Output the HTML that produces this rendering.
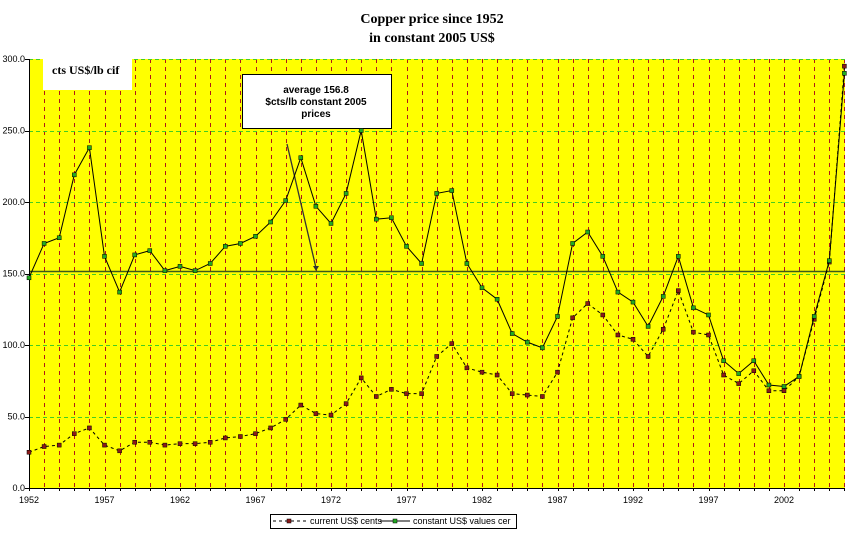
<!DOCTYPE html>
<html><head><style>body{margin:0;background:#fff}svg{display:block}</style></head><body>
<svg id="s" width="856" height="541" xmlns="http://www.w3.org/2000/svg" font-family="Liberation Sans, sans-serif">
<text x="432" y="23" font-family="Liberation Serif, serif" font-weight="bold" font-size="14" text-anchor="middle">Copper price since 1952</text>
<text x="432" y="42" font-family="Liberation Serif, serif" font-weight="bold" font-size="14" text-anchor="middle">in constant 2005 US$</text>
<rect x="29" y="59" width="816" height="429" fill="#ffff00"/>
<g id="g" shape-rendering="crispEdges"></g>
<rect x="43" y="59" width="89" height="31" fill="#fff"/>
<text x="52" y="74" font-family="Liberation Serif, serif" font-weight="bold" font-size="12">cts US$/lb cif</text>
<line x1="29" y1="271.5" x2="845" y2="271.5" stroke="#3a5a1a" stroke-width="1.5"/>
<line x1="287" y1="144" x2="316" y2="268" stroke="#333" stroke-width="1.3"/>
<polygon points="313,266 319,266 316,271" fill="#333"/>
<rect x="242.5" y="74.5" width="149" height="54" fill="#fff" stroke="#000"/>
<text x="316" y="93" font-weight="bold" font-size="10" text-anchor="middle">average 156.8</text>
<text x="316" y="105" font-weight="bold" font-size="10" text-anchor="middle">$cts/lb constant 2005</text>
<text x="316" y="117" font-weight="bold" font-size="10" text-anchor="middle">prices</text>
<line x1="29.5" y1="59" x2="29.5" y2="488" stroke="#000"/>
<line x1="29" y1="488.5" x2="845" y2="488.5" stroke="#000"/>
<g id="d"></g>
<rect x="270.5" y="514.5" width="246" height="14" fill="#fff" stroke="#000"/>
<line x1="273" y1="521" x2="307" y2="521" stroke="#000" stroke-dasharray="3,3"/>
<rect x="287" y="519" width="4" height="4" fill="#8b1a1a" stroke="#000" stroke-width="0.5"/>
<text x="310" y="524" font-size="9">current US$ cents</text>
<line x1="380" y1="521" x2="410" y2="521" stroke="#000"/>
<rect x="393" y="519" width="4" height="4" fill="#22aa22" stroke="#000" stroke-width="0.5"/>
<text x="413" y="524" font-size="9">constant US$ values cer</text>
</svg>
<script>
var ns="http://www.w3.org/2000/svg",g=document.getElementById('g'),d=document.getElementById('d');
function el(p,t,a,txt){var e=document.createElementNS(ns,t);for(var k in a)e.setAttribute(k,a[k]);if(txt)e.textContent=txt;p.appendChild(e);return e;}
function X(i){return 29+i*15.1;}function Y(v){return 488-v*1.43;}
for(var i=1;i<=54;i++){var x=Math.round(X(i))+0.5;el(g,'line',{x1:x,y1:59,x2:x,y2:488,stroke:'#b01818','stroke-dasharray':'4,4'});}
for(var v=50;v<=300;v+=50){var y=Math.round(Y(v))+0.5;el(g,'line',{x1:29,y1:y,x2:845,y2:y,stroke:'#44cc22','stroke-dasharray':'4,3'});}
for(var v=0;v<=300;v+=50){el(d,'text',{x:25,y:Y(v)+3,'font-size':9,'text-anchor':'end'},v.toFixed(1));el(d,'line',{x1:25,y1:Math.round(Y(v))+0.5,x2:29,y2:Math.round(Y(v))+0.5,stroke:'#000'});}
for(var i=0;i<=54;i++){var x=Math.round(X(i))+0.5;el(d,'line',{x1:x,y1:488,x2:x,y2:491,stroke:'#000'});}
for(var i=0;i<=50;i+=5)el(d,'text',{x:X(i),y:503,'font-size':9,'text-anchor':'middle'},1952+i);
var c=[147,171,175,219,238,162,137,163,166,152,155,152,157,169,171,176,186,201,231,197,185,206,250,188,189,169,157,206,208,157,140,132,108,102,98,120,171,179,162,137,130,113,134,162,126,121,89,80,89,72,71,78,120,159,290];
var u=[25,29,30,38,42,30,26,32,32,30,31,31,32,35,36,38,42,48,58,52,51,59,77,64,69,66,66,92,101,84,81,79,66,65,64,81,119,129,121,107,104,92,111,138,109,107,79,73,82,68,68,78,118,158,295];
function ser(a,dash,fill){var p=a.map(function(v,i){return X(i)+','+Y(v)}).join(' ');var at={points:p,fill:'none',stroke:'#000','stroke-width':1};if(dash)at['stroke-dasharray']='3,3';el(d,'polyline',at);a.forEach(function(v,i){el(d,'rect',{x:X(i)-2,y:Y(v)-2,width:4,height:4,fill:fill,stroke:'#000','stroke-width':0.5});});}
ser(u,true,'#8b1a1a');ser(c,false,'#22aa22');
</script>
</body></html>
